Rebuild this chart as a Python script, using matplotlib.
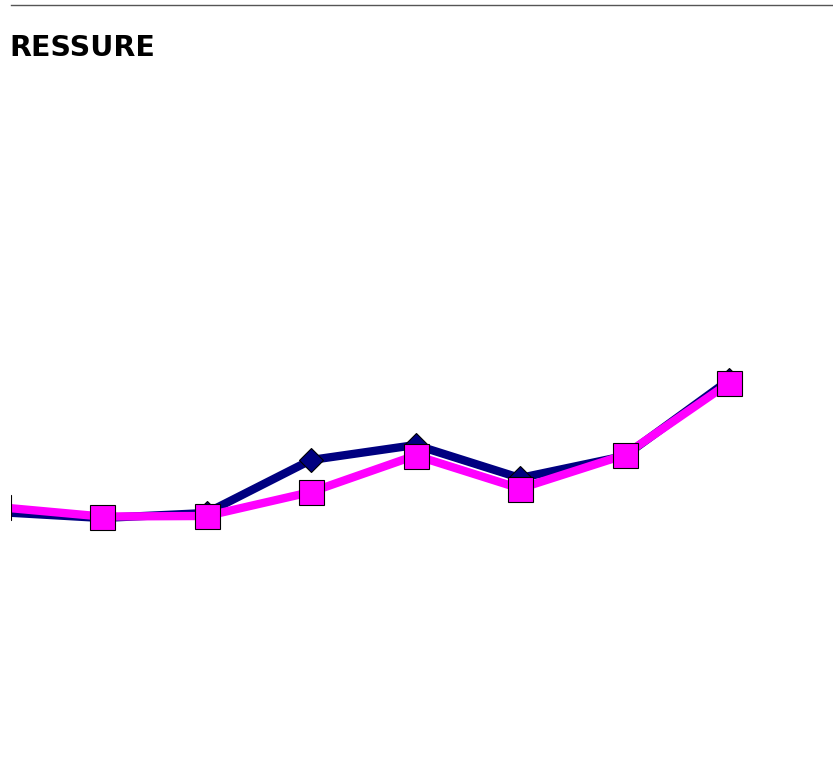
import matplotlib
matplotlib.use("Agg")
import matplotlib.pyplot as plt
import numpy as np

# Readings per step
steps = np.arange(8)
pressure_a = [8.8, 8.2, 8.7, 14.0, 15.5, 12.2, 14.4, 22.0]
pressure_b = [9.3, 8.35, 8.4, 10.8, 14.45, 11.15, 14.5, 21.7]
title_text = "RESSURE"

fig = plt.figure(figsize=(8.33, 7.6), dpi=100)
fig.set_facecolor("white")

# Rule across the top and the heading
fig.add_artist(plt.Line2D([11 / 833, 1], [1 - 5 / 760, 1 - 5 / 760], color="#555555", linewidth=1))
fig.text(9 / 833, 1 - 56 / 760, title_text, fontsize=20.5, fontweight="bold",
         family="DejaVu Sans", color="black", ha="left", va="baseline")

ax = fig.add_axes([11 / 833, 0, 822 / 833, 1])
ax.set_facecolor("none")
ax.axis("off")

ax.plot(steps, pressure_a, color="#000080", linewidth=6, marker="D", markersize=12.5,
        markerfacecolor="#000080", markeredgecolor="black", markeredgewidth=0.8)
ax.plot(steps, pressure_b, color="#ff00ff", linewidth=6, marker="s", markersize=18,
        markerfacecolor="#ff00ff", markeredgecolor="black", markeredgewidth=0.8)

ax.set_xlim(13.5 / 104.5, 835.5 / 104.5)
ax.set_ylim(-16, 60)

fig.savefig("out.png", dpi=100)
